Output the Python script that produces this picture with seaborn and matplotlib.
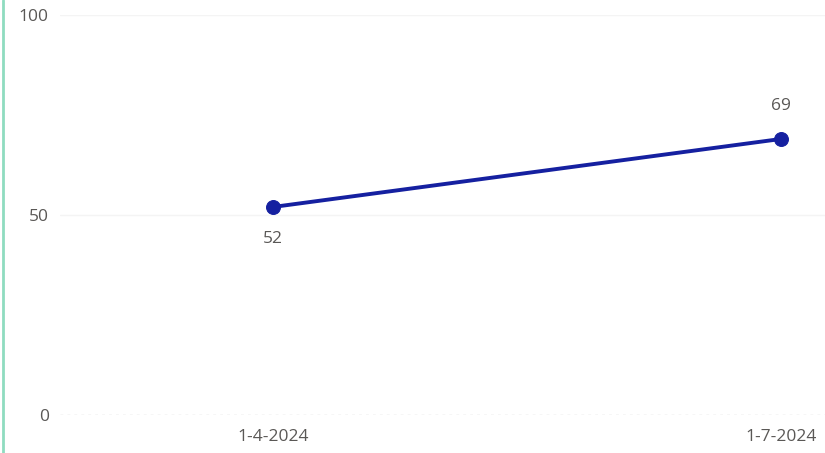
import matplotlib
matplotlib.use('Agg')
import matplotlib.pyplot as plt
import seaborn as sns
import pandas as pd
from matplotlib.lines import Line2D

# ─── Data ────────────────────────────────────────────────────────────────────
dates  = ['1-4-2024', '1-7-2024']
values = [52, 69]
y_ticks = [0, 50, 100]

LINE_COLOR = '#1520A0'
TEXT_COLOR = '#5A5856'

sns.set_theme(style='white')
plt.rcParams['font.family'] = ['Open Sans', 'DejaVu Sans']

df = pd.DataFrame({'date': dates, 'value': values})

fig = plt.figure(figsize=(8.25, 4.53), dpi=100)
ax = fig.add_axes([60 / 825, 38 / 453, 765 / 825, 400 / 453])

sns.lineplot(data=df, x='date', y='value', ax=ax, color=LINE_COLOR,
             linewidth=2.8, marker='o', markersize=10,
             markeredgecolor=LINE_COLOR, sort=False)

# data labels: first below, last above
for i, (d, v) in enumerate(zip(dates, values)):
    off = -17 if i == 0 else 18
    va = 'top' if i == 0 else 'bottom'
    ax.annotate(str(v), (i, v), xytext=(0, off), textcoords='offset points',
                ha='center', va=va, fontsize=12.5, color=TEXT_COLOR)

ax.set_xlim(-0.419, 1.087)
ax.set_ylim(0, 100)
ax.set_yticks(y_ticks)
ax.set_yticklabels([str(t) for t in y_ticks])
ax.set_xlabel('')
ax.set_ylabel('')
ax.tick_params(axis='both', colors=TEXT_COLOR, labelsize=12.5, length=0)
ax.tick_params(axis='y', pad=8)
ax.tick_params(axis='x', pad=10)

# gridlines
for t in y_ticks[1:]:
    ax.axhline(t, color='#F4F4F4', linewidth=1, zorder=0)
ax.axhline(0, color='#D4D4D4', linewidth=1, linestyle=(0, (2, 3)), zorder=0)

for s in ax.spines.values():
    s.set_visible(False)

# mint accent on the left edge
fig.add_artist(Line2D([3 / 825, 3 / 825], [0, 1], transform=fig.transFigure,
                      color='#8FDCC0', linewidth=2))

fig.savefig('out.png', dpi=100)
